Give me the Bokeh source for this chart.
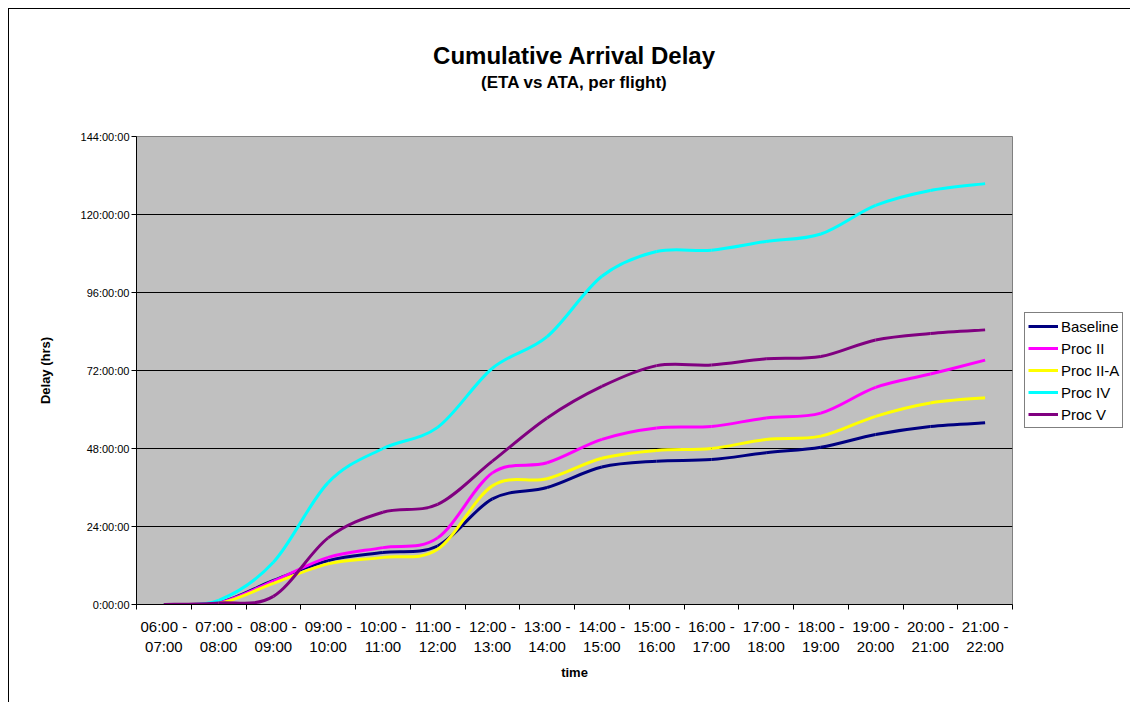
from bokeh.plotting import figure
from bokeh.layouts import row
from bokeh.models import Range1d, FixedTicker, Legend, LegendItem, Title, ColumnDataSource
from bokeh.embed import file_html
from bokeh.resources import INLINE

# ---------------- data ----------------
categories = ["06:00 - 07:00", "07:00 - 08:00", "08:00 - 09:00", "09:00 - 10:00",
              "10:00 - 11:00", "11:00 - 12:00", "12:00 - 13:00", "13:00 - 14:00",
              "14:00 - 15:00", "15:00 - 16:00", "16:00 - 17:00", "17:00 - 18:00",
              "18:00 - 19:00", "19:00 - 20:00", "20:00 - 21:00", "21:00 - 22:00"]

# cumulative delay, hours
baseline = [0, 0.5, 7.4, 13.5, 16.0, 18.0, 32.5, 36.0, 42.3, 44.1, 44.6, 46.7, 48.4, 52.3, 54.8, 55.9]
proc_ii = [0, 0.5, 7.2, 14.5, 17.5, 20.5, 40.5, 43.6, 50.8, 54.3, 54.8, 57.4, 58.9, 66.8, 70.9, 75.2]
proc_ii_a = [0, 0.3, 6.5, 12.5, 14.5, 17.0, 36.5, 38.7, 45.0, 47.4, 48.0, 50.8, 51.8, 57.9, 62.0, 63.6]
proc_iv = [0, 1.3, 13.0, 37.5, 48.0, 54.5, 72.7, 82.4, 101.0, 108.6, 109.0, 111.7, 114.0, 122.8, 127.4, 129.5]
proc_v = [0, 0.5, 2.5, 20.5, 28.4, 30.8, 44.1, 57.4, 67.1, 73.5, 73.7, 75.6, 76.3, 81.4, 83.4, 84.5]

series_names = ["Baseline", "Proc II", "Proc II-A", "Proc IV", "Proc V"]
series_values = [baseline, proc_ii, proc_ii_a, proc_iv, proc_v]
series_colors = ["#000080", "#FF00FF", "#FFFF00", "#00FFFF", "#800080"]

y_ticks = [0, 24, 48, 72, 96, 120, 144]
y_tick_labels = ["0:00:00", "24:00:00", "48:00:00", "72:00:00", "96:00:00", "120:00:00", "144:00:00"]

FONT = "Liberation Sans"


def smooth_source(vals):
    """Smoothed-line segments (cubic Bezier through each data point)."""
    n = len(vals)
    xs = [i + 0.5 for i in range(n)]
    d = dict(x0=[], y0=[], x1=[], y1=[], cx0=[], cy0=[], cx1=[], cy1=[])
    for i in range(n - 1):
        a = max(i - 1, 0)
        b = min(i + 2, n - 1)
        d["x0"].append(xs[i]); d["y0"].append(vals[i])
        d["x1"].append(xs[i + 1]); d["y1"].append(vals[i + 1])
        d["cx0"].append(xs[i] + (xs[i + 1] - xs[a]) / 6.0)
        d["cy0"].append(vals[i] + (vals[i + 1] - vals[a]) / 6.0)
        d["cx1"].append(xs[i + 1] - (xs[b] - xs[i]) / 6.0)
        d["cy1"].append(vals[i + 1] - (vals[b] - vals[i]) / 6.0)
    return ColumnDataSource(d)


centers = [i + 0.5 for i in range(len(categories))]
edges = [i for i in range(len(categories) + 1)]

# ---------------- main chart ----------------
p = figure(width=1004, height=693, output_backend="svg", toolbar_location=None,
           x_range=Range1d(0, len(categories)), y_range=Range1d(0, 144),
           min_border_left=127, min_border_right=1, min_border_top=127, min_border_bottom=98,
           background_fill_color="#C0C0C0", border_fill_color="white",
           outline_line_color="#808080", outline_line_width=1)

# titles: main on top, subtitle below it, spacer nearest the plot
p.title.text = "Cumulative Arrival Delay"
p.title.align = "center"
p.title.text_font = FONT
p.title.text_font_size = "24px"
p.title.text_font_style = "bold"
p.title.text_color = "black"
p.title.standoff = 0
p.add_layout(Title(text=" ", text_font_size="2px", standoff=39), "above")
p.add_layout(Title(text="(ETA vs ATA, per flight)", align="center", text_font=FONT,
                   text_font_size="17px", text_font_style="bold", text_color="black",
                   standoff=4), "above")

# axes
p.xaxis.ticker = FixedTicker(ticks=centers, minor_ticks=edges)
p.xaxis.major_label_overrides = {c: lab.replace(" - ", " -\n") for c, lab in zip(centers, categories)}
p.xaxis.major_tick_line_color = None
p.xaxis.major_tick_out = 5
p.xaxis.minor_tick_in = 0
p.xaxis.minor_tick_out = 5
p.xaxis.minor_tick_line_color = "black"
p.xaxis.major_label_standoff = 8
p.xaxis.major_label_text_font_size = "15px"
p.xaxis.axis_label = "time"
p.xaxis.axis_label_standoff = 7

p.yaxis.ticker = FixedTicker(ticks=y_ticks)
p.yaxis.major_label_overrides = {t: lab for t, lab in zip(y_ticks, y_tick_labels)}
p.yaxis.major_tick_in = 0
p.yaxis.major_tick_out = 5
p.yaxis.minor_tick_line_color = None
p.yaxis.major_label_standoff = 2
p.yaxis.major_label_text_font_size = "11px"
p.yaxis.axis_label = "Delay (hrs)"
p.yaxis.axis_label_standoff = 25

for ax in (p.xaxis, p.yaxis):
    ax.axis_line_color = "black"
    ax.major_label_text_font = FONT
    ax.major_label_text_color = "black"
    ax.axis_label_text_font = FONT
    ax.axis_label_text_font_size = "13px"
    ax.axis_label_text_font_style = "bold"
    ax.axis_label_text_color = "black"

p.xgrid.grid_line_color = None
p.ygrid.grid_line_color = "black"
p.ygrid.grid_line_width = 1

for name, vals, col in zip(series_names, series_values, series_colors):
    p.bezier(x0="x0", y0="y0", x1="x1", y1="y1", cx0="cx0", cy0="cy0", cx1="cx1", cy1="cy1",
             source=smooth_source(vals), line_color=col, line_width=3)

# ---------------- legend panel (series proxies kept outside its view) ----------------
pl = figure(width=117, height=693, output_backend="svg", toolbar_location=None,
            x_range=Range1d(-20, -19), y_range=Range1d(-20, -19),
            x_axis_location=None, y_axis_location=None, min_border=0,
            outline_line_color=None, background_fill_color="white", border_fill_color="white")
pl.xgrid.visible = False
pl.ygrid.visible = False

items = []
for name, vals, col in zip(series_names, series_values, series_colors):
    r = pl.line(x=centers, y=vals, line_color=col, line_width=3)
    items.append(LegendItem(label=name, renderers=[r]))

legend = Legend(items=items, location=(11, 176), orientation="vertical",
                glyph_width=30, glyph_height=20, label_height=20, spacing=2, padding=3,
                margin=0, label_standoff=3, label_text_font=FONT, label_text_font_size="15px",
                label_text_color="black",
                border_line_color="black", border_line_width=1, background_fill_color="white",
                background_fill_alpha=1)
pl.add_layout(legend, "center")

layout = row(p, pl, spacing=0)
layout.styles = {"margin-left": "8px", "margin-top": "8px",
                 "border-top": "1px solid black", "border-left": "1px solid black"}

open("out.html", "w").write(file_html(layout, INLINE))
